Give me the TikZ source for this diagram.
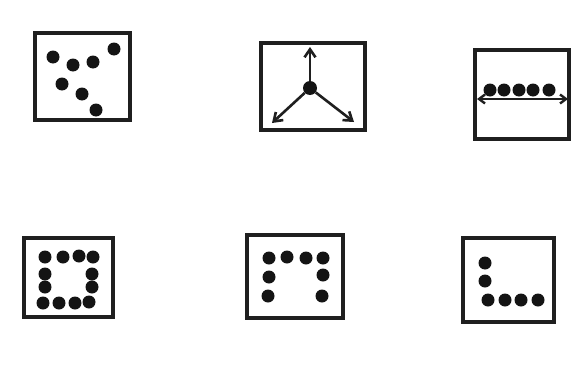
\documentclass[tikz,border=0pt]{standalone}
\usetikzlibrary{arrows.meta}
\tikzset{
    frame/.style={line width=3.4pt, black!88},
    dot/.style={circle, fill=black!92, inner sep=0pt, minimum size=13pt},
    hub/.style={circle, fill=black!92, inner sep=0pt, minimum size=14pt},
    spread/.style={-{Straight Barb[length=8pt, width=11pt]}, line width=2.6pt, black!88},
    span/.style={{Straight Barb[length=6pt, width=9pt]}-{Straight Barb[length=6pt, width=9pt]}, line width=2.4pt, black!88}
}
\begin{document}
\begin{tikzpicture}[x=1pt, y=-1pt]
    \useasboundingbox[fill=white] (0,0) rectangle (587,367);
    % scattered
    \draw[frame] (35,33) rectangle (130,120);
    \foreach \i/\x/\y in {1/53/57,2/114/49,3/73/65,4/93/62,5/62/84,6/82/94,7/96/110}{
        \node[dot] (r\i) at (\x,\y) {};
    }
    % radial
    \draw[frame] (261,43) rectangle (365,130);
    \node[hub] (c) at (310,88) {};
    \coordinate (cn) at (310,47);
    \coordinate (csw) at (272,123);
    \coordinate (cse) at (354,122);
    \foreach \t in {cn,csw,cse}{
        \draw[spread] (c) -- (\t);
    }
    % row on a line
    \draw[frame] (475,50) rectangle (569,139);
    \foreach \i/\x in {1/490,2/504,3/519,4/533,5/549}{
        \node[dot] (l\i) at (\x,90) {};
    }
    \coordinate (lw) at (477,99);
    \coordinate (le) at (568,99);
    \draw[span] (lw) -- (le);
    % ring
    \draw[frame] (24,238) rectangle (113,317);
    \foreach \i/\x/\y in {1/45/257,2/63/257,3/79/256,4/93/257,5/92/274,6/92/287,7/89/302,
                          8/75/303,9/59/303,10/43/303,11/45/287,12/45/274}{
        \node[dot] (o\i) at (\x,\y) {};
    }
    % arch
    \draw[frame] (247,235) rectangle (343,318);
    \foreach \i/\x/\y in {1/268/296,2/269/277,3/269/258,4/287/257,5/306/258,6/323/258,
                          7/323/275,8/322/296}{
        \node[dot] (a\i) at (\x,\y) {};
    }
    % corner
    \draw[frame] (463,238) rectangle (554,322);
    \foreach \i/\x/\y in {1/485/263,2/485/281,3/488/300,4/505/300,5/521/300,6/538/300}{
        \node[dot] (k\i) at (\x,\y) {};
    }
\end{tikzpicture}
\end{document}
